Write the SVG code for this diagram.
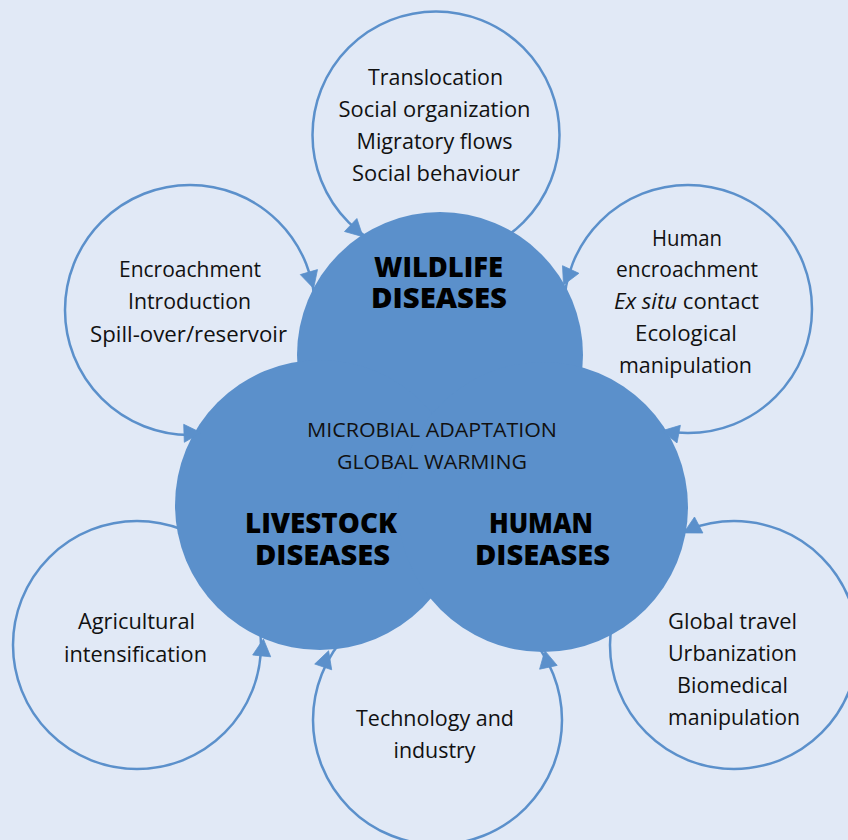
<svg xmlns="http://www.w3.org/2000/svg" width="848" height="840" viewBox="0 0 848 840">
  <style>
    .bg { fill: #e1e9f6; }
    .ring { fill: none; stroke: #5b90cb; stroke-width: 2.5; }
    .core { fill: #5b90cb; }
    .lbl { font-family: "Open Sans", "Noto Sans", sans-serif; font-size: 22px; fill: #111; text-anchor: middle; }
    .mid { font-family: "Open Sans", "Noto Sans", sans-serif; font-size: 19.5px; fill: #111; text-anchor: middle; }
    .big { font-family: "Open Sans", "Noto Sans", sans-serif; font-size: 28px; font-weight: 800; fill: #000; text-anchor: middle; }
    .head { fill: #5b90cb; stroke: #5b90cb; stroke-width: 0.8; stroke-linejoin: miter; }
  </style>

  <rect class="bg" x="0" y="0" width="848" height="840"/>

  <!-- outer factor circles -->
  <g id="node-wildlife-factors">
    <circle class="ring" cx="436" cy="135" r="123.5"/>
    <text class="lbl" x="435.5" y="84.5" textLength="135" lengthAdjust="spacingAndGlyphs">Translocation</text>
    <text class="lbl" x="434.5" y="116.7" textLength="192" lengthAdjust="spacingAndGlyphs">Social organization</text>
    <text class="lbl" x="434.5" y="148.5" textLength="156" lengthAdjust="spacingAndGlyphs">Migratory flows</text>
    <text class="lbl" x="436" y="181" textLength="168" lengthAdjust="spacingAndGlyphs">Social behaviour</text>
  </g>

  <g id="node-encroachment">
    <circle class="ring" cx="190" cy="310" r="125"/>
    <text class="lbl" x="190" y="277" textLength="142" lengthAdjust="spacingAndGlyphs">Encroachment</text>
    <text class="lbl" x="189.5" y="309" textLength="123" lengthAdjust="spacingAndGlyphs">Introduction</text>
    <text class="lbl" x="188.5" y="341.5" textLength="197" lengthAdjust="spacingAndGlyphs">Spill-over/reservoir</text>
  </g>

  <g id="node-human-encroachment">
    <circle class="ring" cx="688" cy="309" r="124"/>
    <text class="lbl" x="687" y="246" textLength="70" lengthAdjust="spacingAndGlyphs">Human</text>
    <text class="lbl" x="687" y="277" textLength="142" lengthAdjust="spacingAndGlyphs">encroachment</text>
    <text class="lbl" x="686.5" y="309" textLength="145" lengthAdjust="spacingAndGlyphs"><tspan font-style="italic">Ex situ</tspan> contact</text>
    <text class="lbl" x="686" y="341" textLength="102" lengthAdjust="spacingAndGlyphs">Ecological</text>
    <text class="lbl" x="685.5" y="373" textLength="133" lengthAdjust="spacingAndGlyphs">manipulation</text>
  </g>

  <g id="node-agriculture">
    <circle class="ring" cx="137" cy="645" r="124"/>
    <text class="lbl" x="136.5" y="629" textLength="117" lengthAdjust="spacingAndGlyphs">Agricultural</text>
    <text class="lbl" x="135.5" y="662" textLength="143" lengthAdjust="spacingAndGlyphs">intensification</text>
  </g>

  <g id="node-technology">
    <circle class="ring" cx="437.5" cy="720" r="124.5"/>
    <text class="lbl" x="435" y="726" textLength="158" lengthAdjust="spacingAndGlyphs">Technology and</text>
    <text class="lbl" x="434.5" y="758" textLength="82" lengthAdjust="spacingAndGlyphs">industry</text>
  </g>

  <g id="node-travel">
    <circle class="ring" cx="734" cy="645" r="124"/>
    <text class="lbl" x="732.5" y="629" textLength="129" lengthAdjust="spacingAndGlyphs">Global travel</text>
    <text class="lbl" x="732.5" y="661" textLength="129" lengthAdjust="spacingAndGlyphs">Urbanization</text>
    <text class="lbl" x="732.5" y="693" textLength="111" lengthAdjust="spacingAndGlyphs">Biomedical</text>
    <text class="lbl" x="734" y="725" textLength="132" lengthAdjust="spacingAndGlyphs">manipulation</text>
  </g>

  <!-- central disease circles -->
  <g id="node-wildlife-diseases">
    <circle class="core" cx="440" cy="355" r="143"/>
  </g>
  <g id="node-livestock-diseases">
    <circle class="core" cx="320" cy="505" r="145"/>
  </g>
  <g id="node-human-diseases">
    <circle class="core" cx="543" cy="507" r="145"/>
  </g>

  <g id="core-labels">
    <text class="big" x="438.5" y="277" textLength="129" lengthAdjust="spacingAndGlyphs">WILDLIFE</text>
    <text class="big" x="439" y="308" textLength="136" lengthAdjust="spacingAndGlyphs">DISEASES</text>
    <text class="mid" x="432" y="437" textLength="250" lengthAdjust="spacingAndGlyphs">MICROBIAL ADAPTATION</text>
    <text class="mid" x="432" y="469" textLength="190" lengthAdjust="spacingAndGlyphs">GLOBAL WARMING</text>
    <text class="big" x="321" y="533" textLength="152" lengthAdjust="spacingAndGlyphs">LIVESTOCK</text>
    <text class="big" x="322.5" y="565" textLength="135" lengthAdjust="spacingAndGlyphs">DISEASES</text>
    <text class="big" x="541" y="533" textLength="104" lengthAdjust="spacingAndGlyphs">HUMAN</text>
    <text class="big" x="542.5" y="565" textLength="135" lengthAdjust="spacingAndGlyphs">DISEASES</text>
  </g>

  <!-- arrowheads where each factor circle meets the disease circles -->
  <g id="connectors">
    <polygon class="head" points="363,236.7 344.5,231.5 356.9,218.5"/>
    <polygon class="head" points="313.6,288.4 300.3,274.6 317.5,269.6"/>
    <polygon class="head" points="201,432.7 184.3,442.3 183.7,424.3"/>
    <polygon class="head" points="563.5,284.9 562.5,265.7 578.9,273.3"/>
    <polygon class="head" points="662,430.8 680.4,425.3 677,442.9"/>
    <polygon class="head" points="683.7,532.9 694.5,517 702.9,533"/>
    <polygon class="head" points="263.4,639 270.7,656.8 252.7,655"/>
    <polygon class="head" points="328.6,650.8 331.7,669.8 314.7,664"/>
    <polygon class="head" points="544.8,650.7 557.2,665.4 539.6,669.2"/>
  </g>
</svg>
